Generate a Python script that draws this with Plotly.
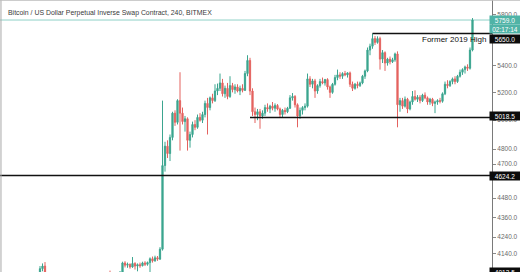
import math
import plotly.graph_objects as go

# 4h candles (BitMEX XBTUSD), oldest first
opens = [
    3990, 4000, 3995, 3985, 3995, 4010, 4000, 4015, 4020, 4055,
    4070, 4030, 4000, 3975, 3965, 3975, 3985, 3980, 3960, 3945,
    3950, 3965, 3975, 3970, 3955, 3960, 3980, 3970, 3980, 3995,
    4000, 4005, 4010, 4015, 4020, 4025, 4030, 4022, 4012, 4020,
    4028, 4035, 4088, 4075, 4080, 4065, 4085, 4070, 4078, 4072,
    4088, 4080, 4090, 4112, 4100, 4118, 4110, 4168, 4690, 4820,
    4770, 4880, 5050, 4985, 5140, 5050, 4990, 5010, 4860, 4900,
    4970, 4950, 5020, 5000, 5040, 5120, 5090, 5160, 5140, 5210,
    5230, 5270, 5190, 5230, 5170, 5250, 5220, 5240, 5210, 5230,
    5215, 5340, 5440, 5210, 5060, 5040, 5060, 5030, 5050, 5090,
    5080, 5100, 5085, 5105, 5080, 5040, 5070, 5060, 5085, 5160,
    5170, 5110, 5030, 5070, 5090, 5100, 5300, 5260, 5285, 5210,
    5250, 5280, 5270, 5295, 5240, 5200, 5260, 5310, 5330, 5320,
    5340, 5330, 5345, 5260, 5230, 5260, 5250, 5270, 5320, 5360,
    5520, 5550, 5610, 5580, 5610, 5450, 5500, 5420, 5450, 5430,
    5445, 5490, 5110, 5140, 5100, 5150, 5080, 5130, 5170, 5150,
    5165, 5140, 5180, 5160, 5130, 5150, 5120, 5130, 5140, 5135,
    5190, 5260, 5250, 5280, 5300, 5280, 5320, 5350, 5370, 5390,
    5380, 5520,
]
highs = [
    4010, 4015, 4005, 4000, 4020, 4025, 4020, 4030, 4070, 4085,
    4093, 4035, 4010, 3990, 3985, 3995, 4000, 3990, 3975, 3960,
    3970, 3985, 3990, 3980, 3970, 3985, 3995, 3985, 4000, 4010,
    4015, 4020, 4025, 4030, 4032, 4034, 4044, 4030, 4025, 4034,
    4040, 4095, 4098, 4090, 4085, 4122, 4092, 4085, 4090, 4095,
    4098, 4096, 4120, 4125, 4130, 4128, 4180, 5140, 4850, 4860,
    4900, 5060, 5070, 5150, 5350, 5090, 5030, 5020, 4920, 4990,
    5000, 5040, 5050, 5060, 5140, 5160, 5170, 5190, 5260, 5265,
    5340, 5300, 5250, 5270, 5320, 5270, 5260, 5260, 5250, 5260,
    5360, 5480, 5460, 5230, 5090, 5080, 5080, 5070, 5110, 5120,
    5110, 5130, 5120, 5115, 5090, 5080, 5090, 5095, 5180, 5195,
    5180, 5120, 5090, 5100, 5120, 5340, 5320, 5300, 5300, 5260,
    5300, 5310, 5300, 5305, 5250, 5270, 5330, 5370, 5350, 5350,
    5360, 5350, 5355, 5280, 5270, 5280, 5280, 5330, 5370, 5540,
    5570, 5650, 5630, 5628, 5625, 5520, 5510, 5460, 5470, 5460,
    5500, 5510, 5160, 5160, 5170, 5160, 5140, 5210, 5215, 5180,
    5180, 5190, 5200, 5170, 5160, 5160, 5140, 5150, 5160, 5200,
    5280, 5290, 5290, 5310, 5320, 5330, 5370, 5380, 5400, 5410,
    5540, 5775,
]
lows = [
    3970, 3985, 3975, 3970, 3990, 3995, 3990, 4005, 4010, 4040,
    4020, 3990, 3960, 3950, 3940, 3960, 3970, 3950, 3935, 3925,
    3940, 3955, 3960, 3945, 3940, 3955, 3965, 3960, 3975, 3985,
    3990, 3995, 4000, 4005, 4010, 4012, 4018, 4005, 4000, 4010,
    4015, 4028, 4062, 4060, 4055, 4060, 4050, 4040, 4060, 4068,
    4070, 4072, 4030, 4090, 4095, 4100, 4105, 4160, 4650, 4740,
    4720, 4860, 4960, 4970, 4790, 4970, 4920, 4790, 4810, 4880,
    4930, 4940, 4990, 4980, 5020, 4900, 5070, 5120, 5130, 5180,
    5210, 5170, 5160, 5150, 5160, 5200, 5190, 5200, 5180, 5200,
    5210, 5320, 5180, 5030, 4980, 5000, 4940, 5010, 5030, 5060,
    5050, 5070, 5060, 5070, 5020, 5020, 5040, 5050, 5080, 5140,
    5090, 4950, 5010, 5040, 5070, 5090, 5240, 5230, 5160, 5190,
    5235, 5260, 5250, 5220, 5160, 5190, 5250, 5290, 5300, 5300,
    5320, 5310, 5240, 5210, 5220, 5230, 5240, 5260, 5300, 5350,
    5480, 5530, 5560, 5570, 5370, 5420, 5360, 5400, 5410, 5420,
    5430, 4950, 5060, 5080, 5090, 5050, 5070, 5110, 5140, 5130,
    5120, 5130, 5150, 5110, 5110, 5100, 5050, 5110, 5120, 5125,
    5180, 5230, 5240, 5260, 5260, 5270, 5310, 5330, 5340, 5360,
    5370, 5510,
]
closes = [
    4000, 3995, 3985, 3995, 4010, 4000, 4015, 4020, 4055, 4070,
    4030, 4000, 3975, 3965, 3975, 3985, 3980, 3960, 3945, 3950,
    3965, 3975, 3970, 3955, 3960, 3980, 3970, 3980, 3995, 4000,
    4005, 4010, 4015, 4020, 4025, 4030, 4022, 4012, 4020, 4028,
    4035, 4088, 4075, 4080, 4065, 4085, 4070, 4078, 4072, 4088,
    4080, 4090, 4112, 4100, 4118, 4110, 4168, 4690, 4820, 4770,
    4880, 5050, 4985, 5140, 5050, 4990, 5010, 4860, 4900, 4970,
    4950, 5020, 5000, 5040, 5120, 5090, 5160, 5140, 5210, 5230,
    5270, 5190, 5230, 5170, 5250, 5220, 5240, 5210, 5230, 5215,
    5340, 5440, 5210, 5060, 5040, 5060, 5030, 5050, 5090, 5080,
    5100, 5085, 5105, 5080, 5040, 5070, 5060, 5085, 5160, 5170,
    5110, 5030, 5070, 5090, 5100, 5300, 5260, 5285, 5210, 5250,
    5280, 5270, 5295, 5240, 5200, 5260, 5310, 5330, 5320, 5340,
    5330, 5345, 5260, 5230, 5260, 5250, 5270, 5320, 5360, 5520,
    5550, 5610, 5580, 5610, 5450, 5500, 5420, 5450, 5430, 5445,
    5490, 5110, 5140, 5100, 5150, 5080, 5130, 5170, 5150, 5165,
    5140, 5180, 5160, 5130, 5150, 5120, 5130, 5140, 5135, 5190,
    5260, 5250, 5280, 5300, 5280, 5320, 5350, 5370, 5390, 5380,
    5520, 5759,
]
bars = list(range(len(closes)))

# Price-scale ticks
tick_values = [4140, 4240, 4360, 4480, 4700, 4800, 5000, 5200, 5400, 5800]
tick_labels = [f"{v:.1f}" for v in tick_values]

# Drawn horizontal levels: price and the bar each one starts from
level_prices = [5650.0, 5018.5, 4624.2]
level_start_bars = [141, 92, None]
level_note = "Former 2019 High"
low_marker_price = 4013.5
last_price = closes[-1]
countdown = "02:17:14"

title_text = "Bitcoin / US Dollar Perpetual Inverse Swap Contract, 240, BITMEX"

UP = "#3ba58f"
DOWN = "#e4625f"
TEAL_LABEL = "#4fb3a6"
FONT = "Liberation Sans, Arial, sans-serif"

x_range = [-8, 188.8]
y_lo, y_hi = math.log10(4036), math.log10(5924)

fig = go.Figure(
    go.Candlestick(
        x=bars, open=opens, high=highs, low=lows, close=closes,
        increasing=dict(line=dict(color=UP, width=1), fillcolor=UP),
        decreasing=dict(line=dict(color=DOWN, width=1), fillcolor=DOWN),
        whiskerwidth=0, showlegend=False, hoverinfo="skip",
    )
)

shapes = []
# last-price line
shapes.append(dict(type="line", xref="paper", x0=0, x1=1, yref="y", y0=last_price, y1=last_price,
                   line=dict(color="#8fd1c7", width=1), layer="below"))
for price, start in zip(level_prices, level_start_bars):
    if start is None:
        shapes.append(dict(type="line", xref="paper", x0=0, x1=1, yref="y", y0=price, y1=price,
                           line=dict(color="#111111", width=1.6)))
    else:
        shapes.append(dict(type="line", xref="x", x0=start, x1=x_range[1], yref="y", y0=price, y1=price,
                           line=dict(color="#111111", width=1.6)))
# chart frame: left and top edges
shapes.append(dict(type="line", xref="paper", x0=0.002, x1=0.002, yref="paper", y0=0, y1=1,
                   line=dict(color="#a8a8a8", width=1)))
shapes.append(dict(type="line", xref="paper", x0=0, x1=1.06, yref="paper", y0=0.999, y1=0.999,
                   line=dict(color="#bdbdbd", width=1)))

annotations = [
    dict(text=title_text, xref="paper", yref="paper", x=0, y=1, xanchor="left", yanchor="middle",
         xshift=6, yshift=-13, showarrow=False, font=dict(family=FONT, size=6.9, color="#3a3a3a")),
    dict(text=level_note, xref="paper", yref="y", x=1, y=math.log10(level_prices[0]), xanchor="right",
         yanchor="middle", xshift=-4, yshift=-6, showarrow=False,
         font=dict(family=FONT, size=8, color="#111111")),
]


def price_box(text, value, bg, yshift=0, use_domain=False):
    if use_domain:
        frac = (math.log10(value) - y_lo) / (y_hi - y_lo)
        yref, yv = "y domain", frac
    else:
        yref, yv = "y", math.log10(value)
    return dict(text=text, xref="paper", yref=yref, x=1, y=yv, xanchor="left", yanchor="middle",
                xshift=-3, yshift=yshift, showarrow=False, bgcolor=bg, width=30, height=8,
                borderpad=0, align="center", font=dict(family=FONT, size=6.5, color="#ffffff"))


annotations.append(price_box(f"{last_price:.1f}", last_price, TEAL_LABEL))
annotations.append(price_box(countdown, last_price, TEAL_LABEL, yshift=-9))
annotations.append(price_box(f"{level_prices[0]:.1f}", level_prices[0], "#0c0c0c", yshift=-5))
annotations.append(price_box(f"{level_prices[1]:.1f}", level_prices[1], "#0c0c0c", yshift=2))
annotations.append(price_box(f"{level_prices[2]:.1f}", level_prices[2], "#0c0c0c"))
annotations.append(price_box(f"{low_marker_price:.1f}", low_marker_price, "#0c0c0c", yshift=4, use_domain=True))

fig.update_layout(
    width=520, height=272,
    margin=dict(l=0, r=28, t=0, b=0),
    paper_bgcolor="#ffffff", plot_bgcolor="#ffffff",
    shapes=shapes, annotations=annotations,
    xaxis=dict(visible=False, range=x_range, rangeslider=dict(visible=False), fixedrange=True),
    yaxis=dict(
        type="log", side="right", range=[y_lo, y_hi],
        tickvals=tick_values, ticktext=tick_labels,
        ticks="outside", ticklen=3, tickcolor="#8a8a8a",
        showline=True, linecolor="#7a7a7a", linewidth=1,
        showgrid=False, zeroline=False,
        tickfont=dict(family=FONT, size=6.5, color="#6a6a6a"),
        fixedrange=True,
    ),
)

fig.write_html("out.html")
